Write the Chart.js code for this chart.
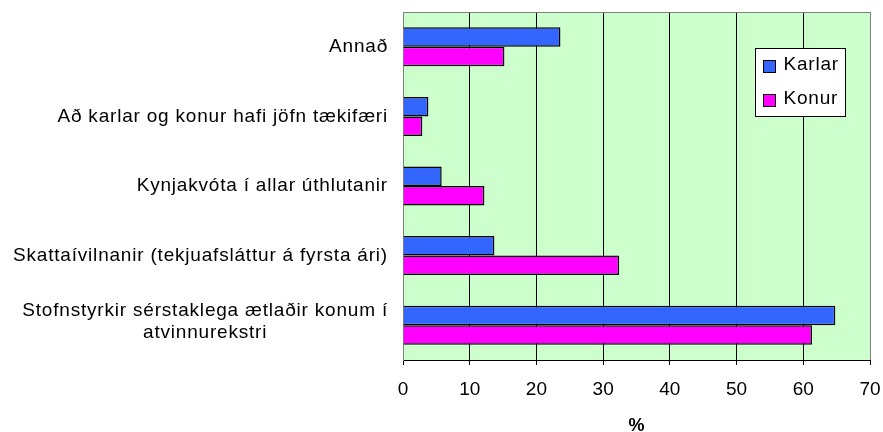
<!DOCTYPE html>
<html><head><meta charset="utf-8">
<script src="https://cdn.jsdelivr.net/npm/chart.js@4/dist/chart.umd.min.js"></script>
<style>html,body{margin:0;padding:0;background:#fff}#wrap{width:883px;height:432px}</style>
</head><body><div id="wrap"><canvas id="c" width="883" height="432"></canvas></div>
<script>
const categories = [
  "Annað",
  "Að karlar og konur hafi jöfn tækifæri",
  "Kynjakvóta í allar úthlutanir",
  "Skattaívilnanir (tekjuafsláttur á fyrsta ári)",
  ["Stofnstyrkir sérstaklega ætlaðir konum í", "atvinnurekstri"]
];
const seriesNames = ["Karlar", "Konur"];
const karlar = [23.6, 3.8, 5.8, 13.7, 64.8];
const konur = [15.2, 2.9, 12.2, 32.4, 61.3];
const xTicks = [0, 10, 20, 30, 40, 50, 60, 70];
const axisTitle = "%";

const FONT = "'Liberation Sans', Arial, sans-serif";
const COLORS = ["#3366FF", "#FF00FF"];

const plotDeco = {
  id: 'plotDeco',
  beforeDraw(chart) {
    const {ctx, chartArea: a} = chart;
    ctx.save();
    ctx.fillStyle = '#CCFFCC';
    ctx.fillRect(a.left, a.top, a.right - a.left, a.bottom - a.top);
    ctx.restore();
  },
  afterDraw(chart) {
    const {ctx, chartArea: a} = chart;
    ctx.save();
    ctx.strokeStyle = '#808080';
    ctx.lineWidth = 1;
    ctx.beginPath();
    ctx.moveTo(a.left, Math.round(a.top) + 0.5);
    ctx.lineTo(a.right + 0.5, Math.round(a.top) + 0.5);
    ctx.stroke();

    // category labels (multi-line labels centred within their block)
    const ys = chart.scales.y;
    ctx.font = `19px ${FONT}`;
    ctx.fillStyle = '#000';
    try { ctx.letterSpacing = '0.8px'; } catch (e) {}
    ctx.textBaseline = 'middle';
    ctx.textAlign = 'center';
    const lh = 22;
    chart.data.labels.forEach((lab, i) => {
      const lines = Array.isArray(lab) ? lab : [lab];
      const w = Math.max(...lines.map(l => ctx.measureText(l).width));
      const cx = a.left - 15 - w / 2;
      const cy = ys.getPixelForTick(i) - (lines.length > 1 ? 3 : 0);
      lines.forEach((l, j) => ctx.fillText(l, cx, cy + (j - (lines.length - 1) / 2) * lh));
    });

    // legend box
    const bw = 90, bh = 68;
    const bx = Math.round(a.right - 25 - bw) + 0.5;
    const by = Math.round(a.top + 36) + 0.5;
    ctx.fillStyle = '#fff';
    ctx.fillRect(bx, by, bw, bh);
    ctx.strokeStyle = '#000';
    ctx.lineWidth = 1;
    ctx.strokeRect(bx, by, bw, bh);
    ctx.textAlign = 'left';
    chart.data.datasets.forEach((ds, i) => {
      const cy = by + 18 + i * 34;
      ctx.fillStyle = ds.backgroundColor;
      ctx.fillRect(bx + 8, cy - 6, 12, 12);
      ctx.strokeStyle = '#000';
      ctx.strokeRect(bx + 8, cy - 6, 12, 12);
      ctx.fillStyle = '#000';
      ctx.fillText(ds.label, bx + 28, cy - 2);
    });
    ctx.restore();
  }
};

new Chart(document.getElementById('c'), {
  type: 'bar',
  data: {
    labels: categories,
    datasets: [
      {label: seriesNames[0], data: karlar, backgroundColor: COLORS[0], borderColor: '#000', borderWidth: 1.5, categoryPercentage: 0.56, barPercentage: 1},
      {label: seriesNames[1], data: konur, backgroundColor: COLORS[1], borderColor: '#000', borderWidth: 1.5, categoryPercentage: 0.56, barPercentage: 1}
    ]
  },
  options: {
    responsive: false,
    animation: false,
    indexAxis: 'y',
    layout: {padding: {top: 12, right: 13, left: 0, bottom: 0}},
    plugins: {legend: {display: false}, tooltip: {enabled: false}},
    scales: {
      x: {
        min: 0, max: 70,
        afterBuildTicks: s => { s.ticks = xTicks.map(v => ({value: v})); },
        grid: {
          color: c => (c.tick && (c.tick.value === 0 || c.tick.value === 70)) ? '#808080' : '#000',
          lineWidth: 1, tickColor: '#000', tickLength: 5
        },
        border: {color: '#000', width: 1},
        ticks: {font: {family: FONT, size: 19}, color: '#000', padding: 13, maxRotation: 0},
        title: {display: true, text: axisTitle, color: '#000',
          font: {family: FONT, size: 18, weight: 'bold', lineHeight: 0.7}, padding: {top: 0, bottom: 0}},
        afterFit: s => { s.height = 72; s.paddingLeft = 0; s.paddingRight = 0; }
      },
      y: {
        ticks: {display: false},
        grid: {display: false},
        border: {color: '#808080', width: 1},
        afterFit: s => { s.width = 403; }
      }
    }
  },
  plugins: [plotDeco]
});
</script>
</body></html>
